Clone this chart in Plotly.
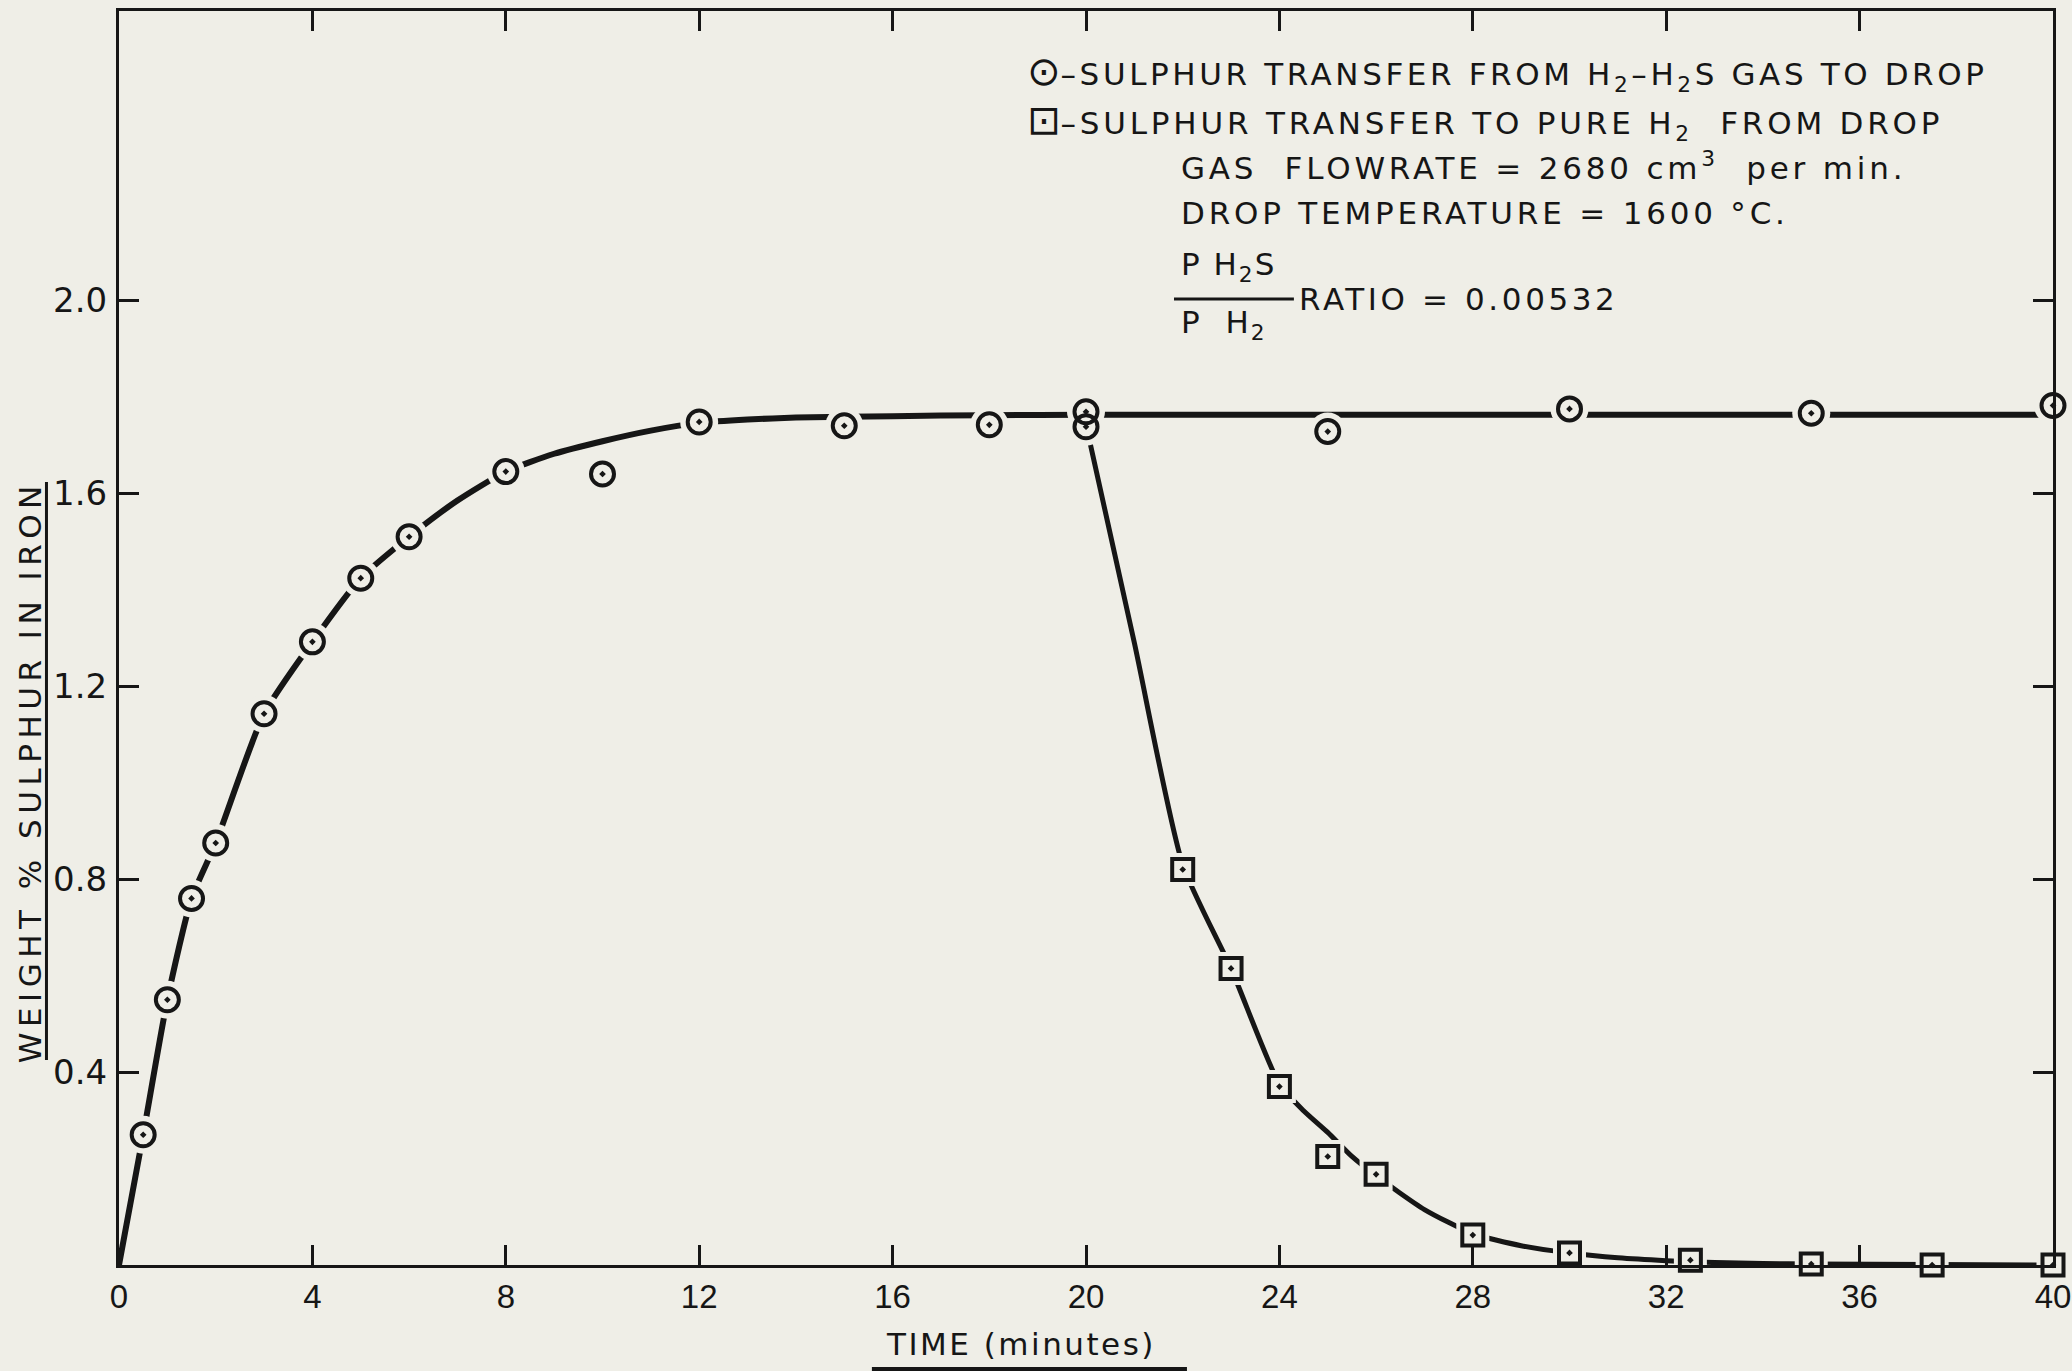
import plotly.graph_objects as go

# ---------------- data ----------------
# Sulphur transfer from H2-H2S gas to drop (open circles)
abs_time = [0.5, 1, 1.5, 2, 3, 4, 5, 6, 8, 10, 12, 15, 18, 20, 20, 25, 30, 35, 40]
abs_wt = [0.27, 0.55, 0.76, 0.875, 1.143, 1.292, 1.424, 1.51, 1.645, 1.64, 1.748,
          1.740, 1.742, 1.769, 1.738, 1.728, 1.775, 1.766, 1.782]

# hand-drawn fitted curve through the absorption data
abs_fit_time = [0, 0.5, 1, 1.5, 2, 3, 4, 5, 6, 7, 8, 9, 10, 11, 12, 13, 14, 16, 18, 20,
                25, 30, 35, 40]
abs_fit_wt = [0, 0.27, 0.55, 0.76, 0.875, 1.143, 1.292, 1.424, 1.51, 1.585, 1.645,
              1.682, 1.708, 1.73, 1.746, 1.753, 1.757, 1.760, 1.762, 1.763,
              1.763, 1.763, 1.763, 1.763]

# Sulphur transfer to pure H2 from drop (open squares)
des_time = [22, 23, 24, 25, 26, 28, 30, 32.5, 35, 37.5, 40]
des_wt = [0.82, 0.615, 0.37, 0.225, 0.188, 0.062, 0.025, 0.01, 0.002, 0.0, 0.0]

# hand-drawn fitted curve through the desorption data
des_fit_time = [20.05, 21, 22, 23, 24, 24.5, 25, 25.5, 26, 27, 28, 29, 30, 31, 32,
                33, 34, 35, 37.5, 40]
des_fit_wt = [1.72, 1.29, 0.83, 0.615, 0.375, 0.32, 0.275, 0.225, 0.185, 0.115,
              0.065, 0.04, 0.025, 0.015, 0.009, 0.005, 0.003, 0.002, 0.001, 0.0]

x_ticks = [0, 4, 8, 12, 16, 20, 24, 28, 32, 36, 40]
x_labels = ["0", "4", "8", "12", "16", "20", "24", "28", "32", "36", "40"]
y_ticks = [0.4, 0.8, 1.2, 1.6, 2.0]
y_labels = ["0.4", "0.8", "1.2", "1.6", "2.0"]

# ---------------- styling ----------------
BG = "#efeee7"
INK = "#161616"
FONT = "DejaVu Sans"

fig = go.Figure()

# fitted curves
fig.add_trace(go.Scatter(x=abs_fit_time, y=abs_fit_wt, mode="lines",
                         line=dict(color=INK, width=6, shape="spline", smoothing=0.6),
                         cliponaxis=False, showlegend=False, hoverinfo="skip"))
fig.add_trace(go.Scatter(x=des_fit_time, y=des_fit_wt, mode="lines",
                         line=dict(color=INK, width=5, shape="spline", smoothing=0.6),
                         cliponaxis=False, showlegend=False, hoverinfo="skip"))

# paper-coloured halos to break the curves at each point (as drawn)
fig.add_trace(go.Scatter(x=abs_time, y=abs_wt, mode="markers",
                         marker=dict(symbol="circle", size=38, color=BG, line=dict(width=0)),
                         cliponaxis=False, showlegend=False, hoverinfo="skip"))
fig.add_trace(go.Scatter(x=des_time, y=des_wt, mode="markers",
                         marker=dict(symbol="square", size=33, color=BG, line=dict(width=0)),
                         cliponaxis=False, showlegend=False, hoverinfo="skip"))

# data points
fig.add_trace(go.Scatter(x=abs_time, y=abs_wt, mode="markers",
                         name="Sulphur transfer from H2-H2S gas to drop",
                         marker=dict(symbol="circle-open-dot", size=23, color=INK,
                                     line=dict(width=4, color=INK)),
                         cliponaxis=False, showlegend=False))
fig.add_trace(go.Scatter(x=des_time, y=des_wt, mode="markers",
                         name="Sulphur transfer to pure H2 from drop",
                         marker=dict(symbol="square-open-dot", size=21, color=INK,
                                     line=dict(width=4, color=INK)),
                         cliponaxis=False, showlegend=False))

axis_common = dict(showline=True, linecolor=INK, linewidth=3, mirror="ticks",
                   ticks="inside", ticklen=20, tickwidth=3, tickcolor=INK,
                   showgrid=False, zeroline=False, automargin=False,
                   ticklabeloverflow="allow")

fig.update_xaxes(range=[0, 40], tickmode="array", tickvals=x_ticks, ticktext=x_labels,
                 ticklabelstandoff=0,
                 tickfont=dict(family="Liberation Sans", size=33, color=INK),
                 **axis_common)
fig.update_yaxes(range=[0, 2.6], tickmode="array", tickvals=y_ticks, ticktext=y_labels,
                 ticklabelstandoff=2,
                 tickfont=dict(family=FONT, size=34, color=INK),
                 **axis_common)


def sp(txt, ls):
    return f'<span style="letter-spacing:{ls}px">{txt}</span>'


def sym(ch):
    return f'<span style="font-size:40px">{ch}</span>'


ann_font = dict(family=FONT, size=31, color=INK)
annotations = [
    dict(text=sym("⊙") + sp("–SULPHUR TRANSFER FROM H<sub>2</sub>–H<sub>2</sub>S GAS TO DROP", 3.6),
         x=0.4685, y=0.9506, xanchor="left", yanchor="middle"),
    dict(text=sym("⊡") + sp("–SULPHUR TRANSFER TO PURE H<sub>2</sub>  FROM DROP", 3.8),
         x=0.4685, y=0.9115, xanchor="left", yanchor="middle"),
    dict(text=sp("GAS  FLOWRATE = 2680 cm<sup>3</sup>  per min.", 3.8),
         x=0.548, y=0.8765, xanchor="left", yanchor="middle"),
    dict(text=sp("DROP TEMPERATURE = 1600 °C.", 3.8),
         x=0.548, y=0.8390, xanchor="left", yanchor="middle"),
    dict(text=sp("P H<sub>2</sub>S", 2),
         x=0.548, y=0.7965, xanchor="left", yanchor="middle"),
    dict(text=sp("P  H<sub>2</sub>", 2),
         x=0.548, y=0.7500, xanchor="left", yanchor="middle"),
    dict(text=sp("RATIO = 0.00532", 3.6),
         x=0.6093, y=0.7700, xanchor="left", yanchor="middle"),
    # axis titles
    dict(text=sp("TIME (minutes)", 2.5), x=0.4664, y=-0.0630,
         xanchor="center", yanchor="middle"),
    dict(text=sp("WEIGHT % SULPHUR IN IRON", 5.5), x=-0.046, y=0.393, textangle=-90,
         xanchor="center", yanchor="middle"),
]
for a in annotations:
    a.update(xref="paper", yref="paper", showarrow=False, font=ann_font)

shapes = [
    # fraction bar of the pressure ratio
    dict(type="line", xref="paper", yref="paper", x0=0.5455, x1=0.6075,
         y0=0.7703, y1=0.7703, line=dict(color=INK, width=3)),
    # underline of x title
    dict(type="line", xref="paper", yref="paper", x0=0.3893, x1=0.5522,
         y0=-0.0829, y1=-0.0829, line=dict(color=INK, width=4)),
    # underline of y title
    dict(type="line", xref="paper", yref="paper", x0=-0.0375, x1=-0.0375,
         y0=0.1635, y1=0.6244, line=dict(color=INK, width=3)),
]

fig.update_layout(width=2072, height=1371, autosize=False,
                  margin=dict(l=119, r=19, t=11, b=106),
                  paper_bgcolor=BG, plot_bgcolor=BG,
                  annotations=annotations, shapes=shapes, showlegend=False)

fig.write_html("out.html")
